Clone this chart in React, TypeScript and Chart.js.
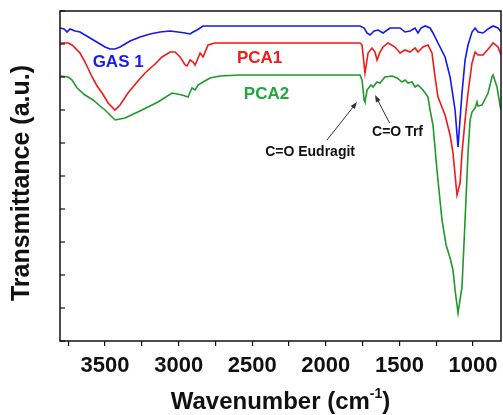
import { useEffect, useRef } from 'react';
import { Chart, registerables } from 'chart.js';

Chart.register(...registerables);

const FONT = '"Liberation Sans", Arial, Helvetica, sans-serif';

// GAS 1 (blue)
const gasWn = [3805, 3778, 3758, 3738, 3704, 3670, 3636, 3602, 3568, 3534, 3500, 3466, 3432, 3398, 3364, 3330, 3262, 3194, 3126, 3058, 3004, 2956, 2922, 2902, 2875, 2834, 2515, 2175, 1768, 1740, 1720, 1700, 1672, 1645, 1611, 1564, 1496, 1462, 1428, 1394, 1374, 1353, 1326, 1292, 1272, 1238, 1190, 1156, 1122, 1102, 1075, 1054, 1034, 1007, 986, 966, 932, 898, 864, 830, 810];
const gasT = [313, 312, 309, 312, 310, 309, 306, 303, 300, 297, 294, 292, 292, 294, 297, 300, 304, 307, 309, 310, 309, 308, 307, 309, 311, 315, 315, 315, 315, 313, 308, 306, 310, 311, 308, 313, 313, 309, 310, 313, 308, 313, 315, 313, 308, 298, 284, 264, 231, 194, 248, 281, 296, 309, 313, 309, 308, 312, 315, 313, 309];

// PCA1 (red)
const pca1Wn = [3805, 3751, 3724, 3670, 3636, 3588, 3554, 3520, 3479, 3432, 3398, 3344, 3282, 3228, 3160, 3113, 3058, 3024, 2990, 2956, 2943, 2922, 2902, 2888, 2868, 2854, 2834, 2800, 2753, 2175, 1768, 1754, 1734, 1713, 1686, 1666, 1652, 1632, 1611, 1577, 1530, 1496, 1462, 1428, 1394, 1374, 1340, 1306, 1279, 1258, 1238, 1190, 1156, 1136, 1122, 1109, 1088, 1075, 1054, 1034, 1007, 986, 966, 932, 885, 864, 830, 810];
const pca1T = [298, 298, 296, 288, 279, 264, 255, 248, 238, 231, 236, 248, 259, 268, 277, 284, 289, 289, 284, 276, 275, 281, 279, 276, 283, 288, 284, 296, 298, 298, 298, 296, 268, 288, 293, 289, 281, 289, 294, 298, 294, 288, 291, 289, 293, 289, 294, 296, 288, 264, 244, 226, 206, 188, 166, 146, 158, 188, 221, 248, 278, 289, 286, 286, 294, 298, 294, 286];

// PCA2 (green)
const pca2Wn = [3805, 3751, 3724, 3690, 3636, 3581, 3534, 3500, 3466, 3432, 3364, 3249, 3140, 3045, 2977, 2956, 2936, 2922, 2909, 2888, 2868, 2834, 2787, 2719, 2583, 2175, 1768, 1754, 1740, 1734, 1720, 1693, 1679, 1652, 1632, 1598, 1550, 1516, 1482, 1462, 1442, 1414, 1394, 1374, 1340, 1306, 1292, 1272, 1245, 1211, 1183, 1156, 1136, 1122, 1102, 1075, 1054, 1034, 1020, 1007, 986, 973, 966, 939, 898, 871, 864, 837, 817, 810];
const pca2T = [265, 264, 261, 253, 246, 241, 235, 231, 226, 221, 223, 231, 239, 248, 246, 245, 244, 249, 253, 251, 256, 259, 263, 265, 266, 266, 266, 261, 241, 239, 251, 256, 254, 259, 258, 264, 265, 263, 259, 261, 258, 259, 254, 256, 251, 244, 231, 216, 171, 121, 96, 83, 71, 51, 28, 54, 121, 188, 221, 229, 233, 239, 235, 236, 248, 264, 266, 254, 236, 231];

// X axis ticks (labelled every 500, minor every 250)
const xTickValues = [1000, 1250, 1500, 1750, 2000, 2250, 2500, 2750, 3000, 3250, 3500, 3750];
const xLabelledTicks = [1000, 1500, 2000, 2500, 3000, 3500];

// In-plot series labels
const seriesNames = ['GAS 1', 'PCA1', 'PCA2'];
const seriesColors = ['#1616f0', '#f01818', '#1e9a2a'];
const labelColors = ['#1a1af5', '#f51a1a', '#1fa83c'];
const labelWn = [3411, 2450, 2403];
const labelT = [278.5, 283, 247];

// Annotations with arrows
const noteTexts = ['C=O Eudragit', 'C=O Trf'];
const noteWn = [2107, 1513];
const noteT = [189, 208.5];
const arrowFromWn = [1992, 1567];
const arrowFromT = [201, 218];
const arrowToWn = [1788, 1666];
const arrowToT = [239, 246];

const xTitle = 'Wavenumber (cm';
const xTitleSup = '-1';
const xTitleEnd = ')';
const yTitle = 'Transmittance (a.u.)';

const decor = {
  id: 'decor',
  afterDatasetsDraw(chart: any) {
    const { ctx, chartArea: a, scales } = chart;
    const xs = scales.x;
    const ys = scales.y;
    ctx.save();
    // frame
    ctx.strokeStyle = '#111';
    ctx.lineWidth = 1.5;
    ctx.strokeRect(a.left, a.top, a.right - a.left, a.bottom - a.top);
    // inward y ticks
    ctx.lineWidth = 1.2;
    ys.ticks.forEach((t: any) => {
      const py = ys.getPixelForValue(t.value);
      ctx.beginPath();
      ctx.moveTo(a.left, py);
      ctx.lineTo(a.left + 5, py);
      ctx.stroke();
    });
    // series labels
    ctx.font = `bold 17px ${FONT}`;
    ctx.textAlign = 'center';
    ctx.textBaseline = 'middle';
    seriesNames.forEach((n, i) => {
      ctx.fillStyle = labelColors[i];
      ctx.fillText(n, xs.getPixelForValue(labelWn[i]), ys.getPixelForValue(labelT[i]));
    });
    // notes
    ctx.font = `bold 14px ${FONT}`;
    ctx.fillStyle = '#111';
    noteTexts.forEach((n, i) => {
      ctx.fillText(n, xs.getPixelForValue(noteWn[i]), ys.getPixelForValue(noteT[i]));
    });
    // arrows
    ctx.strokeStyle = '#333';
    ctx.fillStyle = '#333';
    ctx.lineWidth = 1;
    arrowFromWn.forEach((_, i) => {
      const x1 = xs.getPixelForValue(arrowFromWn[i]);
      const y1 = ys.getPixelForValue(arrowFromT[i]);
      const x2 = xs.getPixelForValue(arrowToWn[i]);
      const y2 = ys.getPixelForValue(arrowToT[i]);
      const ang = Math.atan2(y2 - y1, x2 - x1);
      const hl = 7;
      const hw = 2.6;
      ctx.beginPath();
      ctx.moveTo(x1, y1);
      ctx.lineTo(x2 - Math.cos(ang) * hl * 0.8, y2 - Math.sin(ang) * hl * 0.8);
      ctx.stroke();
      ctx.beginPath();
      ctx.moveTo(x2, y2);
      ctx.lineTo(x2 - Math.cos(ang) * hl - Math.sin(ang) * hw, y2 - Math.sin(ang) * hl + Math.cos(ang) * hw);
      ctx.lineTo(x2 - Math.cos(ang) * hl + Math.sin(ang) * hw, y2 - Math.sin(ang) * hl - Math.cos(ang) * hw);
      ctx.closePath();
      ctx.fill();
    });
    // x title with superscript
    ctx.fillStyle = '#111';
    ctx.textAlign = 'left';
    ctx.textBaseline = 'alphabetic';
    const big = `bold 24px ${FONT}`;
    const small = `bold 14px ${FONT}`;
    ctx.font = big;
    const w1 = ctx.measureText(xTitle).width;
    const w3 = ctx.measureText(xTitleEnd).width;
    ctx.font = small;
    const w2 = ctx.measureText(xTitleSup).width;
    const total = w1 + w2 + w3;
    const cx = (a.left + a.right) / 2;
    const base = a.bottom + 68;
    let sx = cx - total / 2;
    ctx.font = big;
    ctx.fillText(xTitle, sx, base);
    sx += w1;
    ctx.font = small;
    ctx.fillText(xTitleSup, sx, base - 11);
    sx += w2;
    ctx.font = big;
    ctx.fillText(xTitleEnd, sx, base);
    // y title
    ctx.save();
    ctx.translate(22, (a.top + a.bottom) / 2 + 7);
    ctx.rotate(-Math.PI / 2);
    ctx.font = `bold 25px ${FONT}`;
    ctx.textAlign = 'center';
    ctx.textBaseline = 'middle';
    ctx.fillText(yTitle, 0, 0);
    ctx.restore();
    ctx.restore();
  },
};

export default function App() {
  const ref = useRef<HTMLCanvasElement | null>(null);
  useEffect(() => {
    if (!ref.current) return;
    const mk = (wn: number[], t: number[]) => wn.map((x, i) => ({ x, y: t[i] }));
    const chart = new Chart(ref.current, {
      type: 'line',
      data: {
        datasets: [
          { label: seriesNames[0], data: mk(gasWn, gasT), borderColor: seriesColors[0], borderWidth: 1.6, pointRadius: 0, tension: 0 },
          { label: seriesNames[1], data: mk(pca1Wn, pca1T), borderColor: seriesColors[1], borderWidth: 1.6, pointRadius: 0, tension: 0 },
          { label: seriesNames[2], data: mk(pca2Wn, pca2T), borderColor: seriesColors[2], borderWidth: 1.6, pointRadius: 0, tension: 0 },
        ],
      },
      options: {
        animation: false,
        responsive: false,
        devicePixelRatio: 1,
        layout: { padding: { top: 11, right: 2, left: 0, bottom: 0 } },
        plugins: { legend: { display: false }, tooltip: { enabled: false } },
        scales: {
          x: {
            type: 'linear',
            reverse: true,
            min: 810,
            max: 3806,
            afterBuildTicks: (s: any) => { s.ticks = xTickValues.map((v) => ({ value: v })); },
            afterFit: (s: any) => { s.height = 74; },
            border: { display: false },
            grid: { drawOnChartArea: false, drawTicks: true, tickLength: 5, color: '#111', lineWidth: 1.2 },
            ticks: {
              autoSkip: false,
              maxRotation: 0,
              padding: 7,
              color: '#111',
              font: { family: FONT, size: 22, weight: 'bold' },
              callback: (v: any) => (xLabelledTicks.includes(Number(v)) ? String(v) : ''),
            },
          },
          y: {
            type: 'linear',
            min: 0,
            max: 330,
            afterFit: (s: any) => { s.width = 60; },
            border: { display: false },
            grid: { drawOnChartArea: false, drawTicks: false },
            ticks: { stepSize: 33, display: false },
          },
        },
      },
      plugins: [decor],
    } as any);
    return () => chart.destroy();
  }, []);
  return (
    <div style={{ position: 'absolute', left: 0, top: 0, width: 503, height: 415, background: '#fff' }}>
      <canvas ref={ref} width={503} height={415} />
    </div>
  );
}
